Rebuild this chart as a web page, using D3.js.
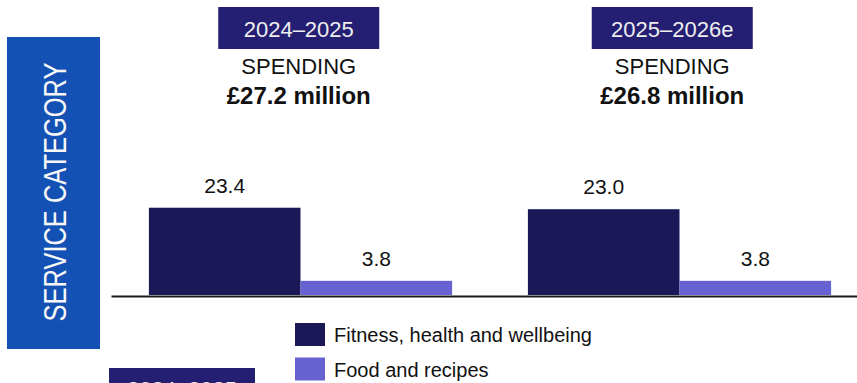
<!DOCTYPE html>
<html>
<head>
<meta charset="utf-8">
<script src="https://cdn.jsdelivr.net/npm/d3@7/dist/d3.min.js"></script>
<style>
  html, body { margin: 0; padding: 0; background: #ffffff; }
  svg { display: block; font-family: "Liberation Sans", Arial, sans-serif; }
</style>
</head>
<body>
<svg id="chart" width="857" height="383"></svg>
<script>
// Spending by service category, £ million
const periods = ["2024–2025", "2025–2026e"];
const totals = ["£27.2 million", "£26.8 million"];
const categories = ["Fitness, health and wellbeing", "Food and recipes"];
const fitnessValues = [23.4, 23.0];
const foodValues = [3.8, 3.8];
const sideTitle = "SERVICE CATEGORY";

const colors = { "Fitness, health and wellbeing": "#1b1858", "Food and recipes": "#6762d2" };
const headerFill = "#241f73";
const panelFill = "#1351b4";

const rows = periods.map((p, i) => ({
  period: p,
  total: totals[i],
  values: [
    { cat: categories[0], value: fitnessValues[i] },
    { cat: categories[1], value: foodValues[i] }
  ]
}));

const svg = d3.select("#chart");

// scales
const x0 = d3.scaleBand().domain(periods).range([111, 869]).paddingInner(0.2).paddingOuter(0.1);
const x1 = d3.scaleBand().domain(categories).range([0, x0.bandwidth()]).padding(0);
const xHead = d3.scaleBand().domain(periods).range([112, 859]).padding(0);
const y = d3.scaleLinear().domain([0, 30]).range([295, 183.1]);

// left category panel
svg.append("rect").attr("x", 7).attr("y", 37).attr("width", 93).attr("height", 312).attr("fill", panelFill);
svg.append("text")
  .attr("transform", "translate(65.5,192) rotate(-90)")
  .attr("text-anchor", "middle")
  .attr("font-size", 31)
  .attr("textLength", 259)
  .attr("lengthAdjust", "spacingAndGlyphs")
  .attr("fill", "#f7f7f7")
  .text(sideTitle);

// period headers
const head = svg.append("g").selectAll("g").data(rows).join("g")
  .attr("transform", d => `translate(${xHead(d.period) + xHead.bandwidth() / 2},0)`);
head.append("rect").attr("x", -80.5).attr("y", 7).attr("width", 161).attr("height", 42).attr("fill", headerFill);
head.append("text").attr("y", 36.5).attr("text-anchor", "middle").attr("font-size", 22)
  .attr("fill", "#eeeeee").text(d => d.period);
head.append("text").attr("y", 74).attr("text-anchor", "middle").attr("font-size", 22)
  .attr("fill", "#111").text("SPENDING");
head.append("text").attr("y", 104).attr("text-anchor", "middle").attr("font-size", 24)
  .attr("font-weight", "bold").attr("fill", "#111").text(d => d.total);

// bars
const groups = svg.append("g").selectAll("g").data(rows).join("g")
  .attr("transform", d => `translate(${x0(d.period)},0)`);
groups.selectAll("rect").data(d => d.values).join("rect")
  .attr("x", d => x1(d.cat))
  .attr("y", d => y(d.value))
  .attr("width", x1.bandwidth())
  .attr("height", d => y(0) - y(d.value))
  .attr("fill", d => colors[d.cat]);
groups.selectAll("text").data(d => d.values).join("text")
  .attr("x", d => x1(d.cat) + x1.bandwidth() / 2)
  .attr("y", d => y(d.value) - 15)
  .attr("text-anchor", "middle")
  .attr("font-size", 21)
  .attr("fill", "#111")
  .text(d => d3.format(".1f")(d.value));

// baseline axis
const axis = svg.append("g").attr("transform", `translate(0,${y(0) + 1})`)
  .call(d3.axisBottom(d3.scaleLinear().range([111, 857])).ticks(0).tickSize(0).tickFormat(""));
axis.select(".domain").attr("stroke", "#1a1a1a").attr("stroke-width", 1.8);

// legend
const legend = svg.append("g").selectAll("g").data(categories).join("g")
  .attr("transform", (d, i) => `translate(295,${323 + i * 34.5})`);
legend.append("rect").attr("width", 30).attr("height", 23).attr("fill", d => colors[d]);
legend.append("text").attr("x", 39).attr("y", 19).attr("font-size", 20).attr("fill", "#111").text(d => d);

// next panel header, starting below
svg.append("rect").attr("x", 109).attr("y", 368).attr("width", 146).attr("height", 30).attr("fill", headerFill);
svg.append("text").attr("x", 182).attr("y", 397).attr("text-anchor", "middle").attr("font-size", 22)
  .attr("fill", "#eeeeee").text(periods[0]);
</script>
</body>
</html>
